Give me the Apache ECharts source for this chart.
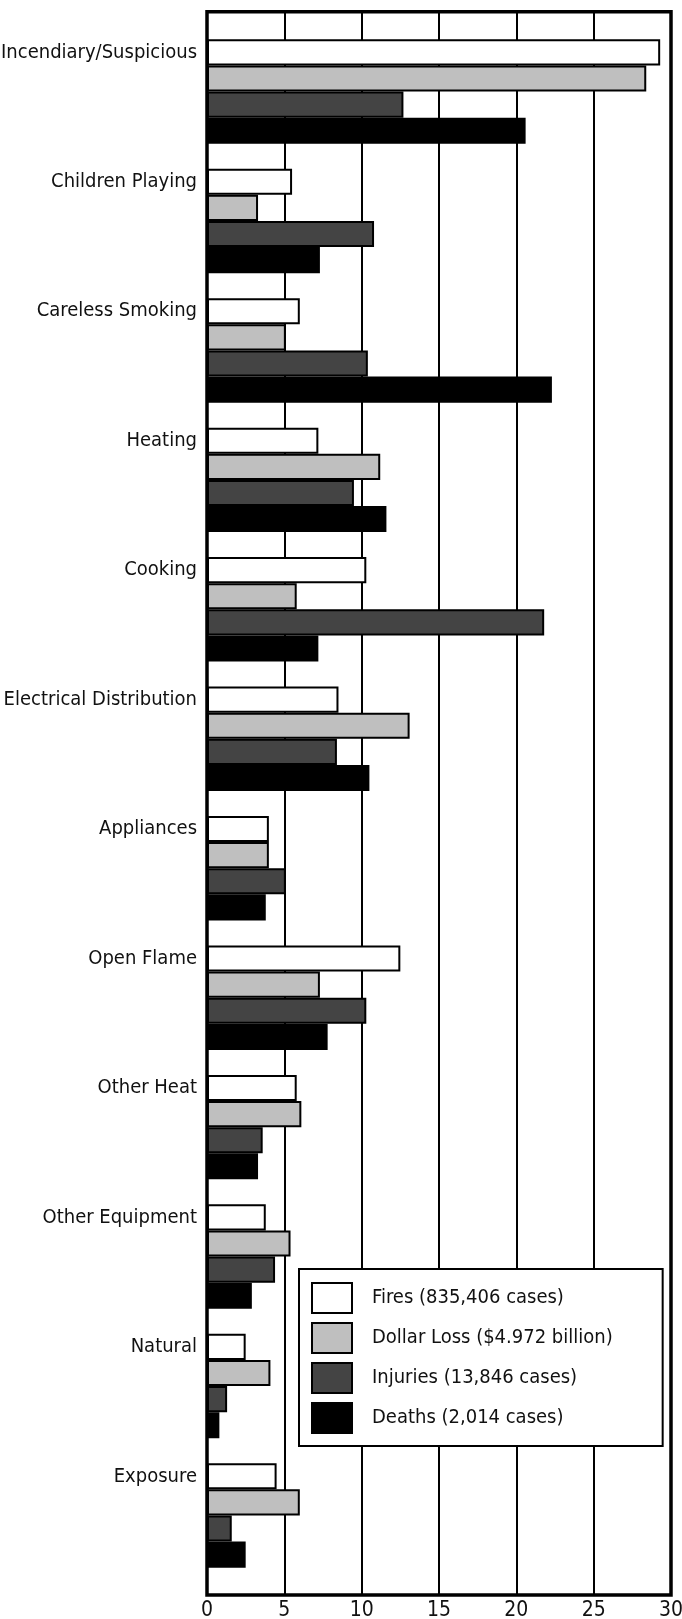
<!DOCTYPE html>
<html>
<head>
<meta charset="utf-8">
<script src="https://cdn.jsdelivr.net/npm/echarts@6/dist/echarts.min.js"></script>
<style>
html,body{margin:0;padding:0;background:#fff;}
#chart{width:682px;height:1619px;}
</style>
</head>
<body>
<div id="chart"></div>
<script>
const categories = ['Incendiary/Suspicious','Children Playing','Careless Smoking','Heating','Cooking','Electrical Distribution','Appliances','Open Flame','Other Heat','Other Equipment','Natural','Exposure'];
const seriesNames = ['Fires (835,406 cases)','Dollar Loss ($4.972 billion)','Injuries (13,846 cases)','Deaths (2,014 cases)'];
const fires      = [29.3, 5.5, 6.0, 7.2, 10.3, 8.5, 4.0, 12.5, 5.8, 3.8, 2.5, 4.5];
const dollarLoss = [28.4, 3.3, 5.1, 11.2, 5.8, 13.1, 4.0, 7.3, 6.1, 5.4, 4.1, 6.0];
const injuries   = [12.7, 10.8, 10.4, 9.5, 21.8, 8.4, 5.1, 10.3, 3.6, 4.4, 1.3, 1.6];
const deaths     = [20.6, 7.3, 22.3, 11.6, 7.2, 10.5, 3.8, 7.8, 3.3, 2.9, 0.8, 2.5];
const xTicks = [0, 5, 10, 15, 20, 25, 30];

const FONT = '"Liberation Sans Narrow", "Arial Narrow", "DejaVu Sans Condensed", sans-serif';
const colors = ['#ffffff', '#bfbfbf', '#444444', '#000000'];
const values = [fires, dollarLoss, injuries, deaths];

const chart = echarts.init(document.getElementById('chart'), null, {renderer: 'canvas'});

const series = values.map((d, i) => ({
  name: seriesNames[i],
  type: 'bar',
  xAxisIndex: 1,
  yAxisIndex: 1,
  data: d,
  barGap: '0%',
  barCategoryGap: '19.3%',
  itemStyle: {color: colors[i], borderColor: '#000', borderWidth: 2},
  label: i === 0 ? {
    show: true, position: 'left', distance: 10, formatter: '{b}',
    fontFamily: FONT, fontSize: 20, color: '#111'
  } : {show: false},
  emphasis: {disabled: true},
  animation: false
}));

chart.setOption({
  animation: false,
  textStyle: {fontFamily: FONT},
  grid: [
    {left: 207, width: 464, top: 11.7, bottom: 24, show: true, borderColor: '#000', borderWidth: 3.5,
     backgroundColor: 'transparent', containLabel: false, outerBoundsMode: 'none'},
    {left: 207, width: 464, top: 26.8, bottom: 38.8, containLabel: false, outerBoundsMode: 'none'}
  ],
  xAxis: [
    {
      gridIndex: 0, type: 'value', min: xTicks[0], max: xTicks[xTicks.length - 1], interval: 5,
      axisLine: {show: false}, axisTick: {show: false},
      splitLine: {show: true, lineStyle: {color: '#000', width: 2}},
      axisLabel: {fontFamily: FONT, fontSize: 21, color: '#111', margin: 5,
        formatter: v => xTicks.includes(v) ? String(v) : ''}
    },
    {gridIndex: 1, type: 'value', min: 0, max: 30, show: false}
  ],
  yAxis: [
    {gridIndex: 0, type: 'value', show: false},
    {
      gridIndex: 1, type: 'category', data: categories, inverse: true,
      axisLine: {show: false}, axisTick: {show: false}, splitLine: {show: false},
      axisLabel: {show: false}
    }
  ],
  legend: {
    orient: 'vertical',
    left: 299, top: 1269,
    padding: [13, 50, 12, 12],
    borderColor: '#000', borderWidth: 2, backgroundColor: '#fff',
    itemWidth: 40, itemHeight: 30, itemGap: 8,
    icon: 'rect',
    itemStyle: {borderColor: '#000', borderWidth: 2},
    textStyle: {fontFamily: FONT, fontSize: 20, lineHeight: 30, color: '#111', padding: [0, 0, 0, 15]},
    data: seriesNames,
    selectedMode: false
  },
  series: series
});
</script>
</body>
</html>
